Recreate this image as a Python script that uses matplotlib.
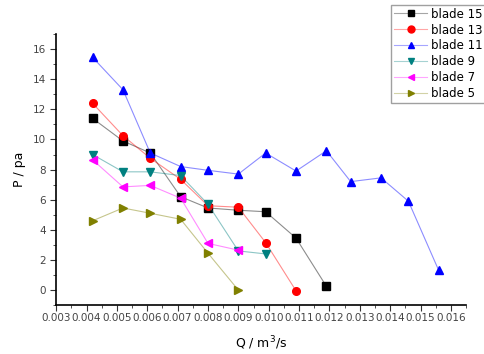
import matplotlib.pyplot as plt
from matplotlib.colors import to_rgba
from matplotlib.ticker import MultipleLocator, FormatStrFormatter

q_short = [0.0042, 0.0052, 0.0061, 0.0071, 0.0080, 0.0090, 0.0099, 0.0109, 0.0119]
q_long = [0.0042, 0.0052, 0.0061, 0.0071, 0.0080, 0.0090, 0.0099, 0.0109,
          0.0119, 0.0127, 0.0137, 0.0146, 0.0156]

p_blade15 = [11.4, 9.9, 9.1, 6.2, 5.45, 5.3, 5.2, 3.45, 0.25]
p_blade13 = [12.4, 10.25, 8.75, 7.35, 5.6, 5.5, 3.15, -0.05]
p_blade11 = [15.45, 13.3, 9.1, 8.2, 7.95, 7.7, 9.1, 7.9, 9.25, 7.2, 7.45, 5.9, 1.3]
p_blade9 = [9.0, 7.85, 7.85, 7.6, 5.7, 2.6, 2.4]
p_blade7 = [8.65, 6.85, 6.95, 6.1, 3.1, 2.65]
p_blade5 = [4.6, 5.45, 5.1, 4.7, 2.45, 0.0]

series = [
    ('blade 15', q_short[:9], p_blade15, 'black', 's'),
    ('blade 13', q_short[:8], p_blade13, 'red', 'o'),
    ('blade 11', q_long, p_blade11, 'blue', '^'),
    ('blade 9', q_short[:7], p_blade9, '#008080', 'v'),
    ('blade 7', q_short[:6], p_blade7, 'magenta', '<'),
    ('blade 5', q_short[:6], p_blade5, '#808000', '>'),
]

fig = plt.figure(figsize=(4.84, 3.54), dpi=100)
ax = fig.add_axes([0.116, 0.138, 0.847, 0.766])

handles = []
for label, q, p, c, m in series:
    ax.plot(q, p, color=c, alpha=0.45, linewidth=0.8)
    ax.plot(q, p, linestyle='none', marker=m, markersize=5.5,
            markerfacecolor=c, markeredgecolor=c)
    handles.append(plt.Line2D([], [], color=to_rgba(c, 0.35), linewidth=0.8,
                              marker=m, markersize=5, markerfacecolor=c,
                              markeredgecolor=c))

labels = [s[0] for s in series]
fig.legend(handles, labels, loc='upper left', bbox_to_anchor=(0.808, 0.987),
           fontsize=8.5, frameon=True, fancybox=False, edgecolor='#888888',
           handlelength=2.8, handletextpad=0.3, labelspacing=0.25,
           borderpad=0.25, borderaxespad=0)

ax.set_xlim(0.003, 0.0165)
ax.set_ylim(-1, 17)
ax.xaxis.set_major_locator(MultipleLocator(0.001))
ax.xaxis.set_minor_locator(MultipleLocator(0.0005))
ax.xaxis.set_major_formatter(FormatStrFormatter('%.3f'))
ax.yaxis.set_major_locator(MultipleLocator(2))
ax.yaxis.set_minor_locator(MultipleLocator(1))
ax.tick_params(which='both', direction='out', labelsize=7.5, color='#333333')
ax.tick_params(which='major', length=4)
ax.tick_params(which='minor', length=2)
ax.tick_params(axis='x', pad=2)
for t in ax.get_xticklabels() + ax.get_yticklabels():
    t.set_color('#444444')

ax.spines['top'].set_visible(False)
ax.spines['right'].set_visible(False)
ax.spines['left'].set_linewidth(1.2)
ax.spines['bottom'].set_linewidth(1.2)

ax.set_xlabel('Q / m$^3$/s', fontsize=9, labelpad=8)
ax.set_ylabel('P / pa', fontsize=9, labelpad=5)

fig.savefig('out.png', dpi=100)
